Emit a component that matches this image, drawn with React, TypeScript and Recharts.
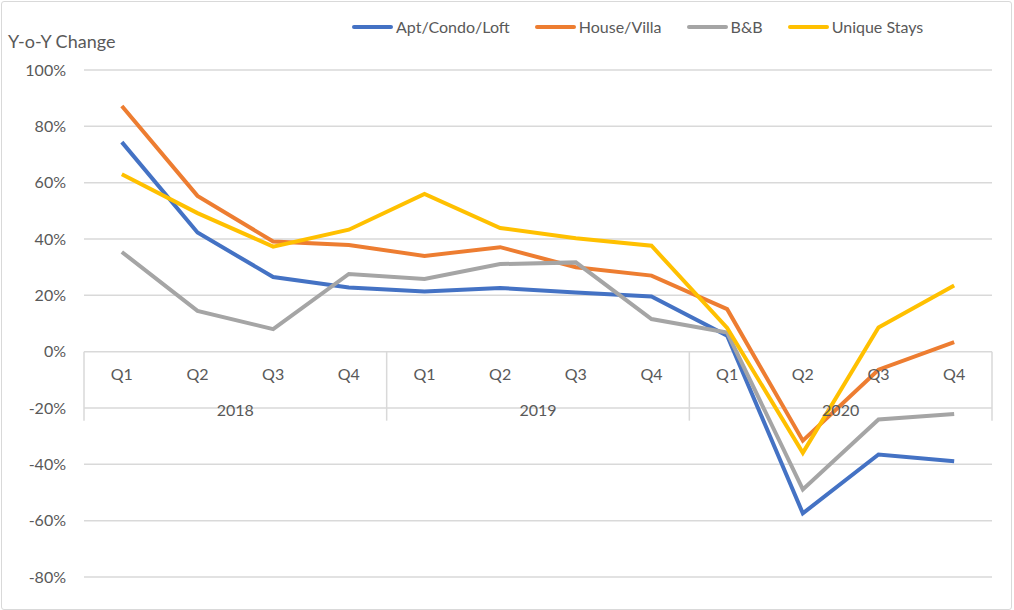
import {
  CartesianGrid,
  Line,
  LineChart,
  ReferenceArea,
  ReferenceDot,
  ReferenceLine,
  XAxis,
  YAxis,
} from 'recharts'

const years = ['2018', '2019', '2020']
const quarters = ['Q1', 'Q2', 'Q3', 'Q4']
const periods = years.flatMap((y) => quarters.map((q) => `${y} ${q}`))

const apt = [74.4, 42.3, 26.5, 22.8, 21.4, 22.6, 21, 19.6, 5.7, -57.4, -36.5, -38.9]
const house = [87.2, 55.3, 39.1, 37.9, 34, 37.1, 30, 27, 15.1, -31.6, -6.4, 3.4]
const bnb = [35.4, 14.5, 8, 27.6, 25.8, 31.1, 31.7, 11.6, 6.8, -48.9, -24.1, -22.1]
const unique = [63, 49.2, 37.3, 43.3, 56, 43.9, 40.3, 37.6, 8.4, -35.9, 8.6, 23.5]

const yTicks = [-80, -60, -40, -20, 0, 20, 40, 60, 80, 100]

const series = [
  { key: 'apt', name: 'Apt/Condo/Loft', color: '#4472C4' },
  { key: 'house', name: 'House/Villa', color: '#ED7D31' },
  { key: 'bnb', name: 'B&B', color: '#A5A5A5' },
  { key: 'unique', name: 'Unique Stays', color: '#FFC000' },
]

const data = periods.map((p, i) => ({
  period: p,
  apt: apt[i],
  house: house[i],
  bnb: bnb[i],
  unique: unique[i],
}))

const FONT = 'Lato, "Open Sans", sans-serif'
const TEXT = '#595959'
const GRID = '#d9d9d9'
const SEP_BOTTOM = -24.5

export default function App() {
  return (
    <div
      style={{
        position: 'absolute',
        left: 0,
        top: 0,
        width: 1014,
        height: 610,
        background: '#fff',
        fontFamily: FONT,
      }}
    >
      <LineChart
        width={1014}
        height={610}
        data={data}
        margin={{ top: 70, right: 22, bottom: 33, left: 14 }}
      >
        <CartesianGrid vertical={false} stroke={GRID} strokeWidth={1.5} />
        <XAxis dataKey="period" scale="band" hide />
        <YAxis
          width={70}
          domain={[-80, 100]}
          ticks={yTicks}
          tickFormatter={(v) => `${v}%`}
          axisLine={false}
          tickLine={false}
          tickMargin={12}
          tick={{ fill: TEXT, fontSize: 16, fontFamily: FONT }}
        />

        {/* year separators of the category axis */}
        {years.map((y) => (
          <ReferenceLine
            key={`sep-${y}`}
            segment={[
              { x: `${y} Q1`, y: 0 },
              { x: `${y} Q1`, y: SEP_BOTTOM },
            ]}
            position="start"
            stroke={GRID}
            strokeWidth={1.5}
          />
        ))}
        <ReferenceLine
          segment={[
            { x: periods[periods.length - 1], y: 0 },
            { x: periods[periods.length - 1], y: SEP_BOTTOM },
          ]}
          position="end"
          stroke={GRID}
          strokeWidth={1.5}
        />

        {/* quarter labels on the 0% line */}
        {periods.map((p) => (
          <ReferenceDot
            key={`q-${p}`}
            x={p}
            y={0}
            r={0}
            fill="none"
            stroke="none"
            label={{
              value: p.split(' ')[1],
              position: 'bottom',
              offset: 17,
              fill: TEXT,
              fontSize: 16,
              fontFamily: FONT,
            }}
          />
        ))}

        {/* year labels */}
        {years.map((y) => (
          <ReferenceArea
            key={`yr-${y}`}
            x1={`${y} Q1`}
            x2={`${y} Q4`}
            y1={SEP_BOTTOM}
            y2={0}
            fill="none"
            stroke="none"
            label={{
              value: y,
              position: 'insideBottom',
              offset: 5,
              fill: TEXT,
              fontSize: 16,
              fontFamily: FONT,
            }}
          />
        ))}

        {series.map((s) => (
          <Line
            key={s.key}
            dataKey={s.key}
            name={s.name}
            stroke={s.color}
            strokeWidth={4}
            dot={false}
            activeDot={false}
            isAnimationActive={false}
          />
        ))}
      </LineChart>

      <div
        style={{
          position: 'absolute',
          left: 8,
          top: 30,
          fontSize: 18,
          color: TEXT,
          lineHeight: '22px',
        }}
      >
        Y-o-Y Change
      </div>

      <div
        style={{
          position: 'absolute',
          left: 352,
          top: 17,
          display: 'flex',
          alignItems: 'center',
          fontSize: 16,
          color: TEXT,
          lineHeight: '20px',
        }}
      >
        {series.map((s) => (
          <div key={s.key} style={{ display: 'flex', alignItems: 'center', marginRight: 25 }}>
            <span
              style={{
                display: 'inline-block',
                width: 41,
                height: 4,
                borderRadius: 2,
                background: s.color,
                marginRight: 3,
              }}
            />
            <span>{s.name}</span>
          </div>
        ))}
      </div>

      <div
        style={{
          position: 'absolute',
          left: 1,
          top: 1,
          width: 1011,
          height: 609,
          boxSizing: 'border-box',
          border: `1.5px solid ${GRID}`,
          borderRadius: 3,
          pointerEvents: 'none',
        }}
      />
    </div>
  )
}
